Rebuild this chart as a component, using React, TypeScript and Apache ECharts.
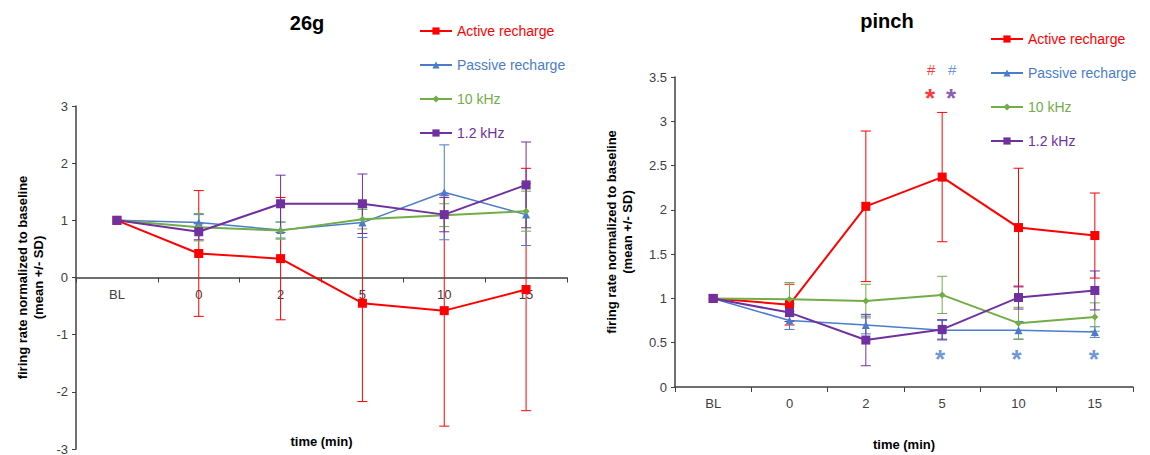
import React, { useEffect, useRef } from "react";
import * as echarts from "echarts";

const categories = ["BL", "0", "2", "5", "10", "15"];
const seriesNames = ["Active recharge", "Passive recharge", "10 kHz", "1.2 kHz"];
const colors = ["#FF0000", "#4A7CCB", "#72AD47", "#7030A0"];
const symbols = ["rect", "triangle", "diamond", "rect"];
const symbolSizes = [9, 8, 7, 9];

// 26g panel: means and SDs
const g26Active = [1, 0.42, 0.33, -0.45, -0.58, -0.21];
const g26ActiveSD = [0, 1.1, 1.07, 1.72, 2.02, 2.12];
const g26Passive = [1, 0.96, 0.83, 0.96, 1.49, 1.1];
const g26PassiveSD = [0, 0.14, 0.14, 0.26, 0.83, 0.54];
const g26Khz10 = [1, 0.88, 0.82, 1.02, 1.09, 1.16];
const g26Khz10SD = [0, 0.24, 0.15, 0.17, 0.2, 0.35];
const g26Khz12 = [1, 0.8, 1.29, 1.29, 1.1, 1.62];
const g26Khz12SD = [0, 0.14, 0.5, 0.52, 0.3, 0.75];

// pinch panel: means and SDs
const pinchActive = [1, 0.93, 2.04, 2.37, 1.8, 1.71];
const pinchActiveSD = [0, 0.23, 0.85, 0.73, 0.67, 0.48];
const pinchPassive = [1, 0.75, 0.7, 0.64, 0.64, 0.62];
const pinchPassiveSD = [0, 0.1, 0.1, 0.11, 0.1, 0.06];
const pinchKhz10 = [1, 0.99, 0.97, 1.04, 0.72, 0.79];
const pinchKhz10SD = [0, 0.19, 0.19, 0.21, 0.18, 0.16];
const pinchKhz12 = [1, 0.84, 0.53, 0.65, 1.01, 1.09];
const pinchKhz12SD = [0, 0.1, 0.29, 0.11, 0.13, 0.22];

// significance marks on pinch panel: [categoryIndex, value, text, colorIndex, xOffset]
const pinchMarks: [number, number, string, number, number][] = [
  [3, 3.58, "#", 0, -11],
  [3, 3.58, "#", 1, 10],
  [3, 3.34, "*", 0, -12],
  [3, 3.34, "*", 3, 9],
  [3, 0.39, "*", 1, -2],
  [4, 0.39, "*", 1, -2],
  [5, 0.39, "*", 1, -1],
];

const FONT = "Liberation Sans, Arial, sans-serif";

export default function App() {
  const ref = useRef<HTMLDivElement>(null);
  useEffect(() => {
    document.body.style.margin = "0";
    if (!ref.current) return;
    const chart = echarts.init(ref.current, null, { renderer: "svg" });

    const panels = [
      { means: [g26Active, g26Passive, g26Khz10, g26Khz12], sds: [g26ActiveSD, g26PassiveSD, g26Khz10SD, g26Khz12SD] },
      { means: [pinchActive, pinchPassive, pinchKhz10, pinchKhz12], sds: [pinchActiveSD, pinchPassiveSD, pinchKhz10SD, pinchKhz12SD] },
    ];

    const series: any[] = [];
    panels.forEach((p, gi) => {
      p.means.forEach((m, si) => {
        const sd = p.sds[si];
        const errData = m
          .map((v, i) => [i, v - sd[i], v + sd[i]])
          .filter((_, i) => sd[i] > 0);
        series.push({
          type: "custom",
          name: "err" + gi + "-" + si,
          xAxisIndex: gi,
          yAxisIndex: gi,
          data: errData,
          encode: { x: 0, y: [1, 2] },
          z: 1,
          clip: false,
          renderItem: (params: any, api: any) => {
            const x = api.value(0);
            const lo = api.coord([x, api.value(1)]);
            const hi = api.coord([x, api.value(2)]);
            const hw = 5;
            const style = { stroke: colors[si], lineWidth: 1 };
            return {
              type: "group",
              children: [
                { type: "line", shape: { x1: lo[0], y1: lo[1], x2: hi[0], y2: hi[1] }, style },
                { type: "line", shape: { x1: lo[0] - hw, y1: lo[1], x2: lo[0] + hw, y2: lo[1] }, style },
                { type: "line", shape: { x1: hi[0] - hw, y1: hi[1], x2: hi[0] + hw, y2: hi[1] }, style },
              ],
            };
          },
        });
      });
    });
    panels.forEach((p, gi) => {
      p.means.forEach((m, si) => {
        series.push({
          type: "line",
          name: seriesNames[si],
          xAxisIndex: gi,
          yAxisIndex: gi,
          data: m,
          symbol: symbols[si],
          symbolSize: symbolSizes[si],
          showAllSymbol: true,
          lineStyle: { color: colors[si], width: si === 1 ? 1.5 : 2 },
          itemStyle: { color: colors[si] },
          z: 3,
        });
      });
    });
    series.push({
      type: "scatter",
      name: "marks",
      xAxisIndex: 1,
      yAxisIndex: 1,
      symbolSize: 0,
      clip: false,
      data: pinchMarks.map((mk) => ({
        value: [mk[0], mk[1]],
        label: {
          show: true,
          position: "inside",
          formatter: mk[2],
          color: colors[mk[3]],
          fontSize: mk[2] === "*" ? 26 : 15,
          fontWeight: mk[2] === "*" ? "bold" : "normal",
          fontFamily: FONT,
          offset: [mk[4], mk[2] === "*" ? 7 : 0],
        },
      })),
      z: 5,
    });

    const axisLabelStyle = { color: "#404040", fontSize: 13, fontFamily: FONT };
    const axisNameStyle = { color: "#000", fontSize: 13, fontWeight: "bold" as const, fontFamily: FONT, lineHeight: 16 };
    const axisLine = { show: true, onZero: false, lineStyle: { color: "#404040", width: 1.5 } };

    const legendData = seriesNames.map((n, i) => ({ name: n, textStyle: { color: colors[i] } }));

    // left panel: x axis sits at value 0, i.e. halfway up a grid of height 343
    const leftGridHeight = 343;

    const option: any = {
      animation: false,
      textStyle: { fontFamily: FONT },
      title: [
        { text: "26g", left: 302, top: 8, textAlign: "center", textStyle: { fontSize: 20, fontWeight: "bold", color: "#000", fontFamily: FONT } },
        { text: "pinch", left: 882, top: 6, textAlign: "center", textStyle: { fontSize: 20, fontWeight: "bold", color: "#000", fontFamily: FONT } },
      ],
      legend: [
        { data: legendData, orient: "vertical", left: 414, top: 19, itemWidth: 32, itemHeight: 9, itemGap: 20, textStyle: { fontSize: 14, fontFamily: FONT }, selectedMode: false },
        { data: legendData, orient: "vertical", left: 985, top: 27, itemWidth: 32, itemHeight: 9, itemGap: 20, textStyle: { fontSize: 14, fontFamily: FONT }, selectedMode: false },
      ],
      grid: [
        { left: 76, top: 106, width: 491, height: leftGridHeight, outerBoundsMode: "none", containLabel: false },
        { left: 675, top: 77, width: 458, height: 310, outerBoundsMode: "none", containLabel: false },
      ],
      xAxis: [0, 1].map((gi) => ({
        type: "category",
        gridIndex: gi,
        position: "bottom",
        offset: gi === 0 ? -leftGridHeight / 2 : 0,
        data: categories,
        boundaryGap: true,
        axisLine,
        axisTick: { show: true, length: 5, lineStyle: { color: "#404040" } },
        axisLabel: { ...axisLabelStyle, margin: 10 },
        name: "time (min)",
        nameLocation: "middle",
        nameGap: gi === 0 ? 156 : 49,
        nameTextStyle: axisNameStyle,
        splitLine: { show: false },
      })),
      yAxis: [
        { type: "value", gridIndex: 0, min: -3, max: 3, interval: 1 },
        { type: "value", gridIndex: 1, min: 0, max: 3.5, interval: 0.5 },
      ].map((y) => ({
        ...y,
        axisLine,
        axisTick: { show: true, length: 4, lineStyle: { color: "#404040" } },
        axisLabel: { ...axisLabelStyle, margin: 8 },
        splitLine: { show: false },
        name: "firing rate normalized to baseline\n(mean +/- SD)",
        nameLocation: "middle",
        nameRotate: 90,
        nameGap: y.gridIndex === 0 ? 30 : 40,
        nameTextStyle: axisNameStyle,
      })),
      series,
    };
    chart.setOption(option);
    return () => chart.dispose();
  }, []);
  return <div ref={ref} style={{ width: 1150, height: 455 }} />;
}
